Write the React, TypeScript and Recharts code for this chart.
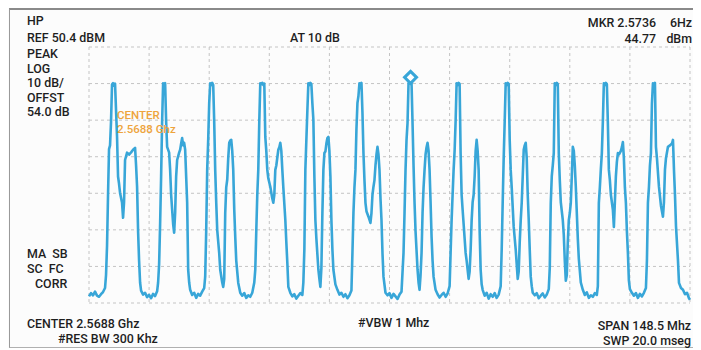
import React from "react";
import { LineChart, Line, XAxis, YAxis, CartesianGrid, ReferenceDot } from "recharts";

// trace samples: [sweep point (0..600), level dBm]
const trace: [number, number][] = [
  [0, -17.8], [2, -16.9], [4, -17.5], [6, -16.5], [8, -17.6], [10, -17.9], [12, -17.2], [14, -16.6], [16, -15.5],
  [17, -12], [18, -4], [19, 10], [20, 22.5], [21, 23.5], [22, 30], [23, 40.2], [24, 40.5], [25, 39.8], [26, 40.4],
  [27, 33], [28, 25.8], [29, 15], [30, 13], [31, 10.5], [33, 7.8], [34, 3.7], [35, 8], [36, 19.5], [38, 21.5],
  [40, 21], [42, 21.6], [44, 22.3], [46, 22.8], [47, 18], [48, 12.2], [49, 0], [50, -8], [51, -14], [52, -16.2],
  [54, -17.3], [56, -16.8], [58, -18], [60, -17.4], [62, -18.3], [64, -17.1], [66, -17.7], [68, -16.4],
  [69, -14], [70, -9], [71, 2], [72, 15], [73, 30], [74, 40.5], [75, 40], [76, 40.5], [77, 30], [78, 23.1],
  [80, 21.5], [81, 16.8], [82, 10], [83, 5.9], [84, 2], [85, -0.4], [86, 5], [87, 15], [88, 19.5], [90, 21.5],
  [91, 22.3], [92, 24], [93, 25.5], [94, 23.5], [95, 24.2], [96, 22.3], [97, 15], [98, 7.8], [99, -10.5],
  [100, -14], [101, -16], [103, -17.4], [105, -16.8], [107, -18.2], [109, -17.1], [111, -17.6], [113, -16.5], [115, -15.5],
  [116, -12.4], [117, 0], [118, 16.8], [119, 25], [120, 35], [121, 40.5], [122, 40], [123, 40.6], [124, 40],
  [125, 30], [126, 16.8], [127, 8], [128, 0.4], [130, -6], [131, -10.5], [133, -14], [134, -15.2], [135, -13],
  [136, 5], [137, 12], [138, 14.1], [139, 20], [140, 24.2], [141, 24.8], [142, 25], [143, 22], [144, 16.8],
  [145, 6], [146, -1.5], [147, -8], [149, -14.1], [151, -16.8], [153, -17.6], [155, -16.9], [157, -18.2],
  [159, -17.5], [161, -17.9], [163, -16.8], [165, -14],
  [166, -10.5], [167, 0], [168, 10], [169, 16.8], [170, 30], [171, 40.5], [172, 40.2], [173, 40.6], [174, 40],
  [175, 40.4], [176, 25.8], [177, 22], [178, 16.8], [179, 14.5], [181, 12.2], [183, 9], [184, 7.8], [185, 10],
  [186, 16.8], [187, 18], [189, 22.3], [190, 23], [191, 24.2], [192, 22], [193, 16.8], [194, 12], [196, 3.1],
  [197, -3], [198, -8.6], [199, -15.2], [201, -16.8], [203, -17.8], [205, -17.2], [207, -18.4], [209, -17.6],
  [211, -16.9], [213, -17.4],
  [214, -14], [215, -5], [216, 16.8], [217, 25], [218, 33], [219, 40.5], [220, 40], [221, 40.6], [222, 40.2],
  [223, 35], [224, 30.5], [225, 15], [226, 3.1], [227, -2], [229, -10.5], [230, -13], [231, -15.2], [232, -10],
  [233, 5], [234, 16.8], [235, 21.4], [236, 21.8], [237, 24], [238, 25.5], [239, 25.8], [240, 22], [241, 15],
  [242, 3.1], [243, -5], [244, -10.5], [246, -14.5], [248, -16], [250, -17.3], [252, -16.8], [254, -17.9],
  [256, -17.2], [258, -18.3], [260, -17.5], [262, -16.2],
  [263, -5.9], [264, 5], [265, 12], [266, 16.8], [267, 28], [268, 35.1], [269, 37], [270, 40.5], [271, 40],
  [272, 40.6], [273, 32.4], [274, 21.4], [275, 14], [276, 7.8], [277, 5.5], [279, 4], [281, 2.3], [282, 5],
  [283, 10], [284, 12.2], [285, 14], [286, 18], [287, 21], [288, 23.1], [289, 21], [290, 16.8], [291, 9],
  [292, 3.1], [293, -6], [294, -12.4], [296, -16.8], [298, -17.5], [300, -16.9], [302, -18.2], [304, -17.1],
  [306, -17.8], [308, -18.5], [310, -17.3], [312, -16.5],
  [314, -5.9], [315, 5], [316, 16.8], [317, 25], [318, 29.6], [319, 40.5], [320, 40.6], [321, 40.4], [322, 40.5],
  [323, 29.6], [324, 18], [325, 7.8], [326, 0], [328, -10.5], [329, -14], [330, -16], [331, -12], [332, -5.9],
  [333, 5], [334, 12], [335, 16.8], [336, 21], [337, 23], [338, 24.2], [339, 22], [340, 16.8], [341, 8],
  [342, -1.5], [343, -8], [344, -12.4], [346, -16], [348, -17.2], [350, -18.1], [352, -17.4], [354, -16.8],
  [356, -17.9], [358, -17], [360, -15],
  [361, -5.9], [362, 3], [363, 10], [364, 16.8], [365, 22], [366, 30], [367, 40.5], [368, 40], [369, 40.6],
  [370, 40.3], [371, 21.4], [372, 10], [373, 5.9], [374, 2], [376, -5.9], [377, -8], [379, -13], [380, -11],
  [381, -5], [382, 3], [383, 8], [384, 10], [385, 15], [386, 22], [387, 25], [388, 22], [389, 16.8], [390, 0],
  [391, -10.5], [392, -14.5], [393, -16], [395, -17.6], [397, -16.8], [399, -18.4], [401, -17.2], [403, -17.9],
  [405, -16.9], [407, -18.2], [409, -17.3], [411, -15],
  [412, -5], [413, 7.8], [414, 20], [415, 30], [416, 40.5], [417, 40], [418, 40.6], [419, 40.3], [420, 25],
  [421, 16.8], [422, 12], [424, 1.2], [426, -5], [428, -13], [429, -11], [430, -3], [431, 3], [432, 7.8],
  [433, 15], [434, 22.3], [435, 23.5], [436, 24.2], [437, 20], [438, 10], [439, 3.1], [440, -5], [441, -12.4],
  [442, -15], [443, -16.8], [445, -17.5], [447, -16.9], [449, -18.3], [451, -17.6], [453, -17], [455, -18.1],
  [457, -17.3], [459, -15.8],
  [460, -10], [461, 7.8], [462, 15], [463, 18], [464, 21.4], [465, 40.5], [466, 40], [467, 40.6], [468, 40.2],
  [469, 21.4], [470, 14], [471, 8], [473, 3.1], [474, -1], [475, -8], [476, -13.5], [477, -12], [478, -3],
  [479, 3], [480, 5], [481, 7.8], [482, 15], [483, 23.1], [484, 22], [485, 18], [486, 12.2], [487, 5], [488, -2],
  [489, -7.5], [491, -14], [493, -16], [495, -17.4], [497, -16.7], [499, -18.2], [501, -17.5], [503, -17.9],
  [505, -16.9], [507, -17.4], [508, -15],
  [509, 7.8], [510, 12], [511, 17], [512, 21.4], [513, 30], [514, 40.5], [515, 40], [516, 40.6], [517, 40.2],
  [518, 29.6], [519, 16.8], [520, 14], [521, 10], [523, 5.9], [524, 1.2], [525, 8], [526, 15], [527, 19],
  [528, 21.4], [529, 21], [531, 22], [532, 23], [533, 24.4], [534, 20], [535, 12], [536, 7.8], [537, 0],
  [538, -5.9], [539, -13.5], [540, -15.8], [542, -16.8], [544, -17.6], [546, -16.9], [548, -18.2], [550, -17.1],
  [552, -17.8], [554, -16.8], [556, -15.5],
  [557, -8], [558, 7.8], [559, 12], [560, 18], [561, 21.4], [562, 35], [563, 40.5], [564, 40], [565, 40.6],
  [566, 23.1], [567, 20], [569, 12.2], [571, 7], [573, 4], [574, 8], [575, 16.8], [576, 20], [578, 23.1],
  [580, 23.5], [582, 24], [583, 25], [584, 16.8], [585, 10], [586, 1.5], [588, -8], [589, -14.1], [591, -15.5],
  [593, -16], [595, -17.2], [597, -16.8], [599, -18.3], [600, -18.7],
];

const xTicks = [0, 60, 120, 180, 240, 300, 360, 420, 480, 540, 600];
const yTicks = [-19.6, -9.6, 0.4, 10.4, 20.4, 30.4, 40.4, 50.4];
const marker = { pt: 321, dbm: 42.1 };

const leftLabels = [
  { text: "HP", x: 19, y: 17 },
  { text: "REF 50.4 dBM", x: 19, y: 33.5 },
  { text: "PEAK", x: 19, y: 50 },
  { text: "LOG", x: 19, y: 65 },
  { text: "10 dB/", x: 19, y: 79 },
  { text: "OFFST", x: 19, y: 94 },
  { text: "54.0 dB", x: 19, y: 108 },
  { text: "MA  SB", x: 19, y: 250 },
  { text: "SC  FC", x: 19, y: 265 },
  { text: "CORR", x: 27, y: 280 },
  { text: "CENTER 2.5688 Ghz", x: 19, y: 320 },
  { text: "#RES BW 300 Khz", x: 50, y: 335 },
  { text: "AT 10 dB", x: 282, y: 33.5 },
  { text: "#VBW 1 Mhz", x: 350, y: 319 },
];
const rightLabels = [
  { text: "MKR 2.5736", x: 648, y: 19 },
  { text: "6Hz", x: 684, y: 19 },
  { text: "44.77", x: 648, y: 35 },
  { text: "dBm", x: 684, y: 35 },
  { text: "SPAN 148.5 Mhz", x: 683, y: 322 },
  { text: "SWP 20.0 mseg", x: 683, y: 337 },
];
const centerNote = ["CENTER", "2.5688 Ghz"];

const data = trace.map(([pt, dbm]) => ({ pt, dbm }));
const BLUE = "#38a6d8";

const Diamond = (props: any) => {
  const { cx, cy } = props;
  const r = 6;
  return (
    <polygon
      points={`${cx},${cy - r} ${cx + r},${cy} ${cx},${cy + r} ${cx - r},${cy}`}
      fill="#fff"
      stroke={BLUE}
      strokeWidth={3}
    />
  );
};

export default function App() {
  const font = {
    fontFamily: "Roboto, sans-serif",
    fontWeight: 500,
    fontSize: 12.4,
    whiteSpace: "pre" as const,
  };
  return (
    <div style={{ position: "relative", width: 690, height: 340, background: "#fcfcfc" }}>
      <div
        style={{
          position: "absolute",
          left: 1,
          top: 0,
          width: 689,
          height: 340,
          boxSizing: "border-box",
          borderTop: "2px solid #8a8a8a",
          borderLeft: "1.5px solid #9a9a9a",
          borderRight: "1.5px solid #b0b0b0",
          borderBottom: "1.5px solid #b0b0b0",
        }}
      />
      <LineChart width={690} height={340} data={data} margin={{ top: 39, right: 8, bottom: 45, left: 81 }}>
        <CartesianGrid stroke="#c4c4c4" strokeDasharray="3 3" strokeWidth={1} />
        <XAxis dataKey="pt" type="number" domain={[0, 600]} ticks={xTicks} hide />
        <YAxis type="number" domain={[-19.6, 50.4]} ticks={yTicks} hide />
        <Line
          dataKey="dbm"
          type="linear"
          stroke={BLUE}
          strokeWidth={2.6}
          strokeLinejoin="round"
          dot={false}
          isAnimationActive={false}
        />
        <ReferenceDot x={marker.pt} y={marker.dbm} r={6} shape={Diamond} ifOverflow="visible" />
      </LineChart>
      <svg width={690} height={340} style={{ position: "absolute", left: 0, top: 0, pointerEvents: "none" }}>
        {leftLabels.map((l) => (
          <text key={l.text} x={l.x} y={l.y} fill="#1e1e1e" style={font}>
            {l.text}
          </text>
        ))}
        {rightLabels.map((l) => (
          <text key={l.text} x={l.x} y={l.y} fill="#1e1e1e" textAnchor="end" style={font}>
            {l.text}
          </text>
        ))}
        {centerNote.map((t, i) => (
          <text
            key={t}
            x={109}
            y={110.5 + i * 14}
            fill="#eea43c"
            style={{ fontFamily: "Roboto, sans-serif", fontWeight: 500, fontSize: 11.5 }}
          >
            {t}
          </text>
        ))}
      </svg>
    </div>
  );
}
